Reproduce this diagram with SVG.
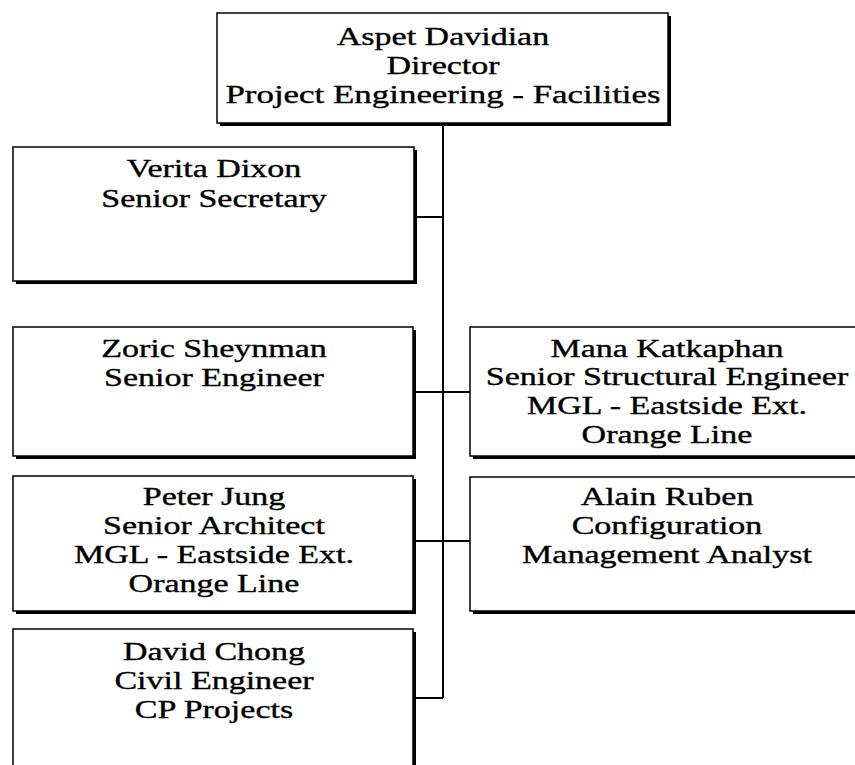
<svg xmlns="http://www.w3.org/2000/svg" width="855" height="765" viewBox="0 0 855 765">
<style>
.box{fill:#fff;stroke:#000;stroke-width:1.5}
.sh{fill:#000}
.t{font-family:"Liberation Serif","Times New Roman",serif;font-size:25px;text-anchor:middle;fill:#000;stroke:#000;stroke-width:0.35}
.c{fill:none;stroke:#000;stroke-width:2}
</style>
<rect width="855" height="765" fill="#fff"/>
<g id="connectors">
<line class="c" x1="443" y1="124" x2="443" y2="698"/>
<line class="c" x1="416" y1="217" x2="443" y2="217"/>
<line class="c" x1="415" y1="392" x2="470" y2="392"/>
<line class="c" x1="415" y1="541" x2="470" y2="541"/>
<line class="c" x1="415" y1="698" x2="443" y2="698"/>
</g>
<g id="aspet">
<rect class="sh" x="220" y="16" width="451" height="110"/>
<rect class="box" x="217" y="13" width="451" height="110"/>
<g transform="translate(443 0) scale(1.36 1)">
<text class="t" x="0" y="45">Aspet Davidian</text>
<text class="t" x="0" y="74">Director</text>
<text class="t" x="0" y="103" textLength="320" lengthAdjust="spacingAndGlyphs">Project Engineering - Facilities</text>
</g>
</g>
<g id="verita">
<rect class="sh" x="16" y="150" width="401" height="134"/>
<rect class="box" x="13" y="147" width="401" height="134"/>
<g transform="translate(214 0) scale(1.36 1)">
<text class="t" x="0" y="177">Verita Dixon</text>
<text class="t" x="0" y="207">Senior Secretary</text>
</g>
</g>
<g id="zoric">
<rect class="sh" x="16" y="330" width="400" height="129"/>
<rect class="box" x="13" y="327" width="400" height="129"/>
<g transform="translate(214 0) scale(1.36 1)">
<text class="t" x="0" y="357">Zoric Sheynman</text>
<text class="t" x="0" y="386">Senior Engineer</text>
</g>
</g>
<g id="mana">
<rect class="sh" x="473" y="330" width="400" height="129"/>
<rect class="box" x="470" y="327" width="400" height="129"/>
<g transform="translate(667 0) scale(1.36 1)">
<text class="t" x="0" y="357">Mana Katkaphan</text>
<text class="t" x="0" y="385">Senior Structural Engineer</text>
<text class="t" x="0" y="414">MGL - Eastside Ext.</text>
<text class="t" x="0" y="443">Orange Line</text>
</g>
</g>
<g id="peter">
<rect class="sh" x="16" y="479" width="400" height="135"/>
<rect class="box" x="13" y="476" width="400" height="135"/>
<g transform="translate(214 0) scale(1.36 1)">
<text class="t" x="0" y="505">Peter Jung</text>
<text class="t" x="0" y="534">Senior Architect</text>
<text class="t" x="0" y="563">MGL - Eastside Ext.</text>
<text class="t" x="0" y="592">Orange Line</text>
</g>
</g>
<g id="alain">
<rect class="sh" x="473" y="480" width="400" height="134"/>
<rect class="box" x="470" y="477" width="400" height="134"/>
<g transform="translate(667 0) scale(1.36 1)">
<text class="t" x="0" y="505">Alain Ruben</text>
<text class="t" x="0" y="534">Configuration</text>
<text class="t" x="0" y="563">Management Analyst</text>
</g>
</g>
<g id="david">
<rect class="sh" x="16" y="632" width="400" height="200"/>
<rect class="box" x="13" y="629" width="400" height="200"/>
<g transform="translate(214 0) scale(1.36 1)">
<text class="t" x="0" y="660">David Chong</text>
<text class="t" x="0" y="689">Civil Engineer</text>
<text class="t" x="0" y="718">CP Projects</text>
</g>
</g>
</svg>
